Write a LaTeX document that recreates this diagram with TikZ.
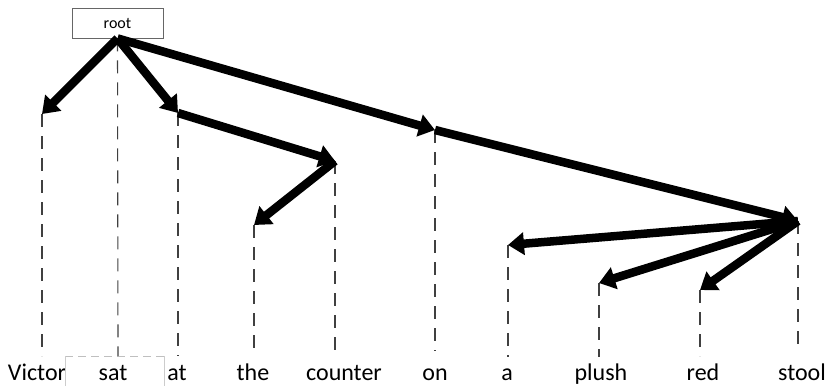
\documentclass[tikz,border=0pt]{standalone}
\usepackage{fontspec}
\setmainfont{Carlito}
\usetikzlibrary{arrows.meta}
\begin{document}
\begin{tikzpicture}[x=1pt,y=-1pt,
  dep/.style={line width=8.5pt, -{Triangle[length=16pt,width=22pt]}},
  guide/.style={draw=black!75, line width=1.1pt, dash pattern=on 13pt off 9pt},
  word/.style={anchor=base, inner sep=0pt, font=\fontsize{24}{28}\selectfont},
  rootbox/.style={draw=black!60, line width=0.8pt, minimum width=91pt, minimum height=30pt, inner sep=0pt, font=\fontsize{16}{19}\selectfont}]
\useasboundingbox (0,0) rectangle (830,386);
% root
\node[rootbox] (root) at (117.5,23) {root};
% words
\node[word] (wVictor) at (37,380) {Victor};
\node[word] (wsat) at (113,380) {sat};
\node[word] (wat) at (177,380) {at};
\node[word] (wthe) at (253,380) {the};
\node[word] (wcounter) at (344,380) {counter};
\node[word] (won) at (435,380) {on};
\node[word] (wa) at (507,380) {a};
\node[word] (wplush) at (601,380) {plush};
\node[word] (wred) at (703,380) {red};
\node[word] (wstool) at (802,380) {stool};
% tops and bottoms of guide lines
\coordinate (tVictor) at (42,114);
\coordinate (bVictor) at (42,356);
\coordinate (bsat) at (118,356);
\coordinate (tat) at (178,113);
\coordinate (bat) at (178,356);
\coordinate (tthe) at (254,225);
\coordinate (bthe) at (254,356);
\coordinate (tcounter) at (335,161);
\coordinate (bcounter) at (335,355);
\coordinate (ton) at (435,130);
\coordinate (bon) at (435,351);
\coordinate (ta) at (508,245);
\coordinate (ba) at (508,357);
\coordinate (tplush) at (599,283);
\coordinate (bplush) at (599,357);
\coordinate (tred) at (700,290);
\coordinate (bred) at (700,356);
\coordinate (tstool) at (798,221);
\coordinate (bstool) at (798,352);
% box round sat
\draw[black!25, line width=0.8pt, dash pattern=on 8pt off 5pt] (65,356) -- (164,356);
\draw[black!20, line width=0.8pt] (65,356) -- (65,386) (164,356) -- (164,386);
% guide lines
\draw[guide] (tVictor) -- (bVictor);
\draw[guide] (root.south) -- (bsat);
\draw[guide] (tat) -- (bat);
\draw[guide] (tthe) -- (bthe);
\draw[guide] (tcounter) -- (bcounter);
\draw[guide] (ton) -- (bon);
\draw[guide] (ta) -- (ba);
\draw[guide] (tplush) -- (bplush);
\draw[guide] (tred) -- (bred);
\draw[guide] (tstool) -- (bstool);
% dependencies
\draw[dep] (root.south) -- (tVictor);
\draw[dep] (root.south) -- (tat);
\draw[dep] (root.south) -- (ton);
\draw[dep] (tat) -- (tcounter);
\draw[dep] (tcounter) -- (tthe);
\draw[dep] (ton) -- (tstool);
\draw[dep] (tstool) -- (ta);
\draw[dep] (tstool) -- (tplush);
\draw[dep] (tstool) -- (tred);
\end{tikzpicture}
\end{document}
